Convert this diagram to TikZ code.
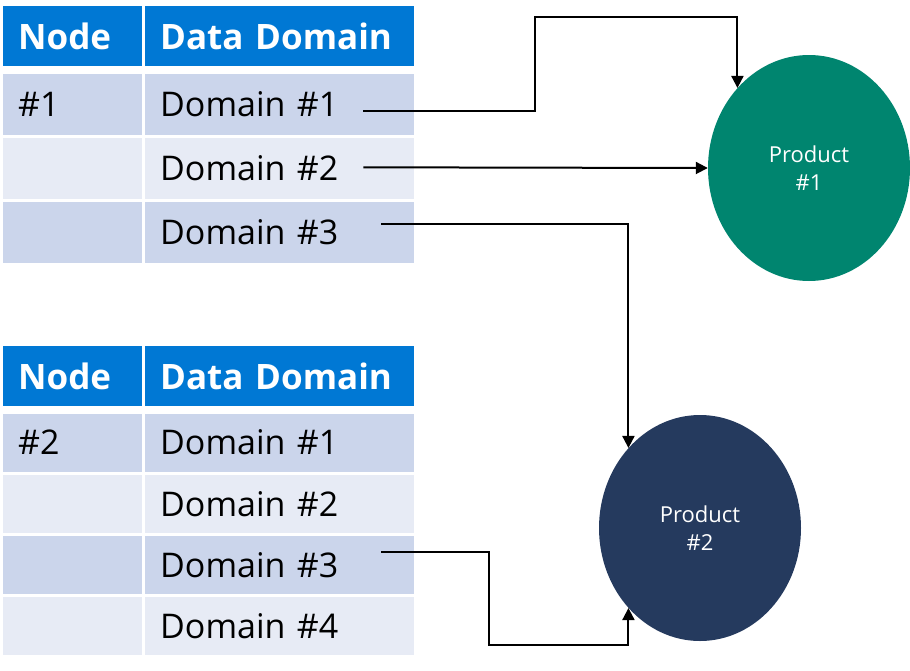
\documentclass[tikz,border=0pt]{standalone}
\usepackage{fontspec}
\setmainfont{Open Sans}
\usepackage{tikz}
\usetikzlibrary{matrix}
\usetikzlibrary{arrows.meta}
\usetikzlibrary{calc,positioning,shapes.geometric}

\definecolor{headblue}{HTML}{0078D4}
\definecolor{banddark}{HTML}{CBD5EB}
\definecolor{bandlight}{HTML}{E7EBF5}
\definecolor{prodteal}{HTML}{00856F}
\definecolor{prodnavy}{HTML}{253A5E}

\tikzset{
    cell/.style={rectangle, inner xsep=15pt, inner ysep=0pt, align=left, font=\fontsize{34}{40}\selectfont},
    ncol/.style={cell, text width=109pt},
    dcol/.style={cell, text width=239pt},
    head/.style={fill=headblue, text=white, minimum height=60pt, font=\bfseries\fontsize{35}{40}\selectfont},
    darkrow/.style={fill=banddark, minimum height=#1},
    lightrow/.style={fill=bandlight, minimum height=#1},
    product/.style={ellipse, minimum width=202pt, minimum height=226pt, inner sep=0pt, text=white, align=center, font=\fontsize{22}{28}\selectfont},
    link/.style={line width=2pt, -{Triangle[length=12pt,width=12pt]}}
}

\begin{document}
\begin{tikzpicture}[x=1pt, y=-1pt]
    \useasboundingbox (0,0) rectangle (910,670);

    % first table
    \matrix (tabA) [anchor=north west, inner sep=0pt, column sep=3pt, row sep=3pt] at (3,6)
{
    \node [ncol, head] (hA1) {Node}; & \node [dcol, head] (hA2) {Data Domain}; \\[4pt]
    \node [ncol, darkrow=61pt] (nA1) {\#1}; & \node [dcol, darkrow=61pt] (dA1) {Domain \#1}; \\
    \node [ncol, lightrow=61pt] (nA2) {}; & \node [dcol, lightrow=61pt] (dA2) {Domain \#2}; \\
    \node [ncol, darkrow=61pt] (nA3) {}; & \node [dcol, darkrow=61pt] (dA3) {Domain \#3}; \\
};

    % second table
    \matrix (tabB) [anchor=north west, inner sep=0pt, column sep=3pt, row sep=3pt] at (3,346)
{
    \node [ncol, head] (hB1) {Node}; & \node [dcol, head] (hB2) {Data Domain}; \\[4pt]
    \node [ncol, darkrow=58pt] (nB1) {\#2}; & \node [dcol, darkrow=58pt] (dB1) {Domain \#1}; \\
    \node [ncol, lightrow=58pt] (nB2) {}; & \node [dcol, lightrow=58pt] (dB2) {Domain \#2}; \\
    \node [ncol, darkrow=58pt] (nB3) {}; & \node [dcol, darkrow=58pt] (dB3) {Domain \#3}; \\
    \node [ncol, lightrow=58pt] (nB4) {}; & \node [dcol, lightrow=58pt] (dB4) {Domain \#4}; \\
};

    \node [product, fill=prodteal] (prodA) at (809,168) {Product\\\#1};
    \node [product, fill=prodnavy] (prodB) at (700,528) {Product\\\#2};

    \coordinate (sA1) at ([shift={(-51,7)}]dA1.east);
    \coordinate (sA2) at ([shift={(-51,-1)}]dA2.east);
    \coordinate (sA3) at ([shift={(-33,-9)}]dA3.east);
    \coordinate (sB3) at ([shift={(-33,-13)}]dB3.east);

    \draw [link] (sA1) -- ++(172,0) |- ([yshift=71pt]prodA.north west) -- (prodA.north west);
    \draw [link] (sA2) -- (prodA.west);
    \draw [link] (sA3) -| (prodB.north west);
    \draw [link] (sB3) -- ++(108,0) |- ([yshift=-37pt]prodB.south west) -- (prodB.south west);
\end{tikzpicture}
\end{document}
